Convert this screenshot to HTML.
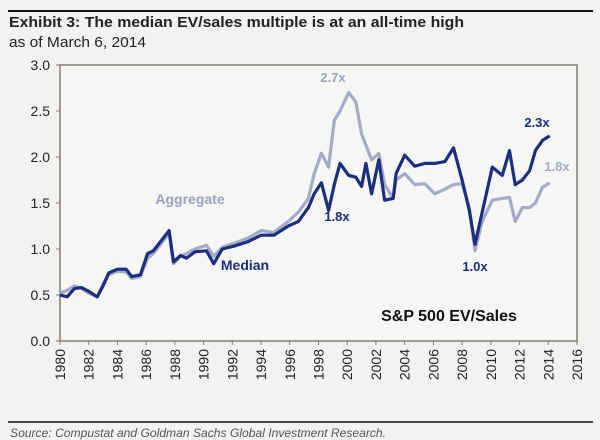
<!DOCTYPE html>
<html><head><meta charset="utf-8"><style>
body{margin:0;background:#f2f2f0;}
svg{display:block;font-family:"Liberation Sans",sans-serif;}
</style></head><body>
<svg width="600" height="440" viewBox="0 0 600 440">
<rect width="600" height="440" fill="#f2f2f0"/>
<line x1="8" y1="11" x2="593" y2="11" stroke="#111" stroke-width="2"/>
<text x="9" y="27" font-size="15" font-weight="bold" fill="#222" textLength="455" lengthAdjust="spacingAndGlyphs">Exhibit 3: The median EV/sales multiple is at an all-time high</text>
<text x="9" y="47" font-size="15" fill="#222" textLength="137" lengthAdjust="spacingAndGlyphs">as of March 6, 2014</text>
<g id="axes"></g>
<g id="series"></g>
<text x="333" y="82" font-size="13" font-weight="bold" fill="#9aa1c2" text-anchor="middle">2.7x</text>
<text x="537" y="127" font-size="13" font-weight="bold" fill="#1a2f80" text-anchor="middle">2.3x</text>
<text x="557" y="171" font-size="13" font-weight="bold" fill="#a4abc9" text-anchor="middle">1.8x</text>
<text x="337" y="221" font-size="13" font-weight="bold" fill="#1a2f80" text-anchor="middle">1.8x</text>
<text x="475" y="271" font-size="13" font-weight="bold" fill="#1a2f80" text-anchor="middle">1.0x</text>
<text x="190" y="204" font-size="14" font-weight="bold" fill="#9aa1c2" text-anchor="middle">Aggregate</text>
<text x="245" y="270" font-size="14" font-weight="bold" fill="#1a2f80" text-anchor="middle">Median</text>
<text x="449" y="321" font-size="16" font-weight="bold" fill="#111" text-anchor="middle">S&amp;P 500 EV/Sales</text>
<line x1="8" y1="422" x2="593" y2="422" stroke="#111" stroke-width="1.5"/>
<text x="10" y="437" font-size="12" font-style="italic" fill="#555" textLength="376" lengthAdjust="spacingAndGlyphs">Source: Compustat and Goldman Sachs Global Investment Research.</text>
</svg>
<script>
const yTicks=["0.0","0.5","1.0","1.5","2.0","2.5","3.0"];
const xTicks=[1980,1982,1984,1986,1988,1990,1992,1994,1996,1998,2000,2002,2004,2006,2008,2010,2012,2014,2016];
const medYears=[1980,1980.5,1981,1981.5,1982,1982.6,1983,1983.4,1984,1984.6,1985,1985.6,1986.1,1986.5,1987,1987.6,1987.9,1988.4,1988.8,1989.4,1990.2,1990.7,1991.3,1992.1,1993.1,1994,1994.9,1995.9,1996.6,1997.3,1997.7,1998.2,1998.7,1999.1,1999.5,2000.1,2000.6,2001,2001.3,2001.7,2002.2,2002.6,2003.2,2003.4,2004,2004.7,2005.4,2006.1,2006.8,2007.4,2008,2008.5,2008.9,2009.4,2010.1,2010.8,2011.3,2011.7,2012.2,2012.7,2013.1,2013.6,2014.1];
const medVals=[0.5,0.48,0.57,0.58,0.54,0.48,0.6,0.74,0.78,0.78,0.7,0.72,0.95,0.98,1.08,1.2,0.86,0.93,0.9,0.97,0.98,0.84,1.0,1.03,1.08,1.15,1.15,1.25,1.3,1.45,1.6,1.72,1.42,1.7,1.93,1.8,1.78,1.68,1.93,1.6,1.97,1.53,1.55,1.82,2.02,1.9,1.93,1.93,1.95,2.1,1.75,1.42,1.05,1.4,1.89,1.8,2.07,1.7,1.75,1.85,2.07,2.18,2.23];
const aggYears=[1980,1980.5,1981,1981.5,1982,1982.6,1983,1983.4,1984,1984.6,1985,1985.6,1986.1,1986.5,1987,1987.6,1987.9,1988.4,1989.4,1990.2,1990.7,1991.3,1992.1,1993.1,1994,1994.9,1995.9,1996.6,1997.3,1997.7,1998.2,1998.7,1999.1,1999.5,2000.1,2000.6,2001,2001.7,2002.2,2002.6,2003.2,2003.4,2004,2004.7,2005.4,2006.1,2006.8,2007.4,2008,2008.5,2008.9,2009.4,2010.1,2010.8,2011.3,2011.7,2012.2,2012.7,2013.1,2013.6,2014.1];
const aggVals=[0.52,0.55,0.6,0.57,0.52,0.48,0.62,0.72,0.76,0.75,0.68,0.7,0.9,0.95,1.05,1.17,0.84,0.92,1.0,1.04,0.92,1.02,1.06,1.12,1.2,1.18,1.3,1.4,1.55,1.82,2.04,1.89,2.4,2.5,2.7,2.6,2.25,1.97,2.04,1.7,1.55,1.75,1.82,1.7,1.71,1.6,1.65,1.7,1.71,1.45,0.98,1.3,1.53,1.55,1.56,1.3,1.45,1.45,1.5,1.67,1.72];
const L=60,R=577,T=65,B=341;
const xs=y=>L+(y-1980)/(2016-1980)*(R-L);
const ys=v=>B-v/3*(B-T);
const NS='http://www.w3.org/2000/svg';
function mk(tag,attrs,parent){const e=document.createElementNS(NS,tag);for(const k in attrs)e.setAttribute(k,attrs[k]);parent.appendChild(e);return e;}
const ax=document.getElementById('axes');
const frame=mk('rect',{x:L,y:T,width:R-L,height:B-T,fill:'#f6f6f4',stroke:'#857c74','stroke-width':1.5},ax);


yTicks.forEach((t,i)=>{const y=ys(parseFloat(t));
const tk=mk('line',{x1:L-4,x2:L,y1:y,y2:y,stroke:'#857c74'},ax);


const tx=mk('text',{x:L-10,y:y+5,'font-size':14,'text-anchor':'end',fill:'#222'},ax);tx.textContent=t;

});
xTicks.forEach(t=>{const x=xs(t);
const tk=mk('line',{x1:x,x2:x,y1:B,y2:B+4,stroke:'#857c74'},ax);


const tx=mk('text',{x:0,y:0,'font-size':14,'text-anchor':'end',fill:'#222',transform:`translate(${x+5},${B+8}) rotate(-90)`},ax);tx.textContent=t;

});
const sg=document.getElementById('series');
function line(yrs,vals,col,name){const d=yrs.map((y,i)=>(i?'L':'M')+xs(y).toFixed(1)+','+ys(vals[i]).toFixed(1)).join('');
const p=mk('path',{d:d,fill:'none',stroke:col,'stroke-width':3.2,'stroke-linejoin':'round'},sg);

}
line(aggYears,aggVals,'#a4abc9','aggregate-line');
line(medYears,medVals,'#1a2f80','median-line');
</script>
</body></html>
